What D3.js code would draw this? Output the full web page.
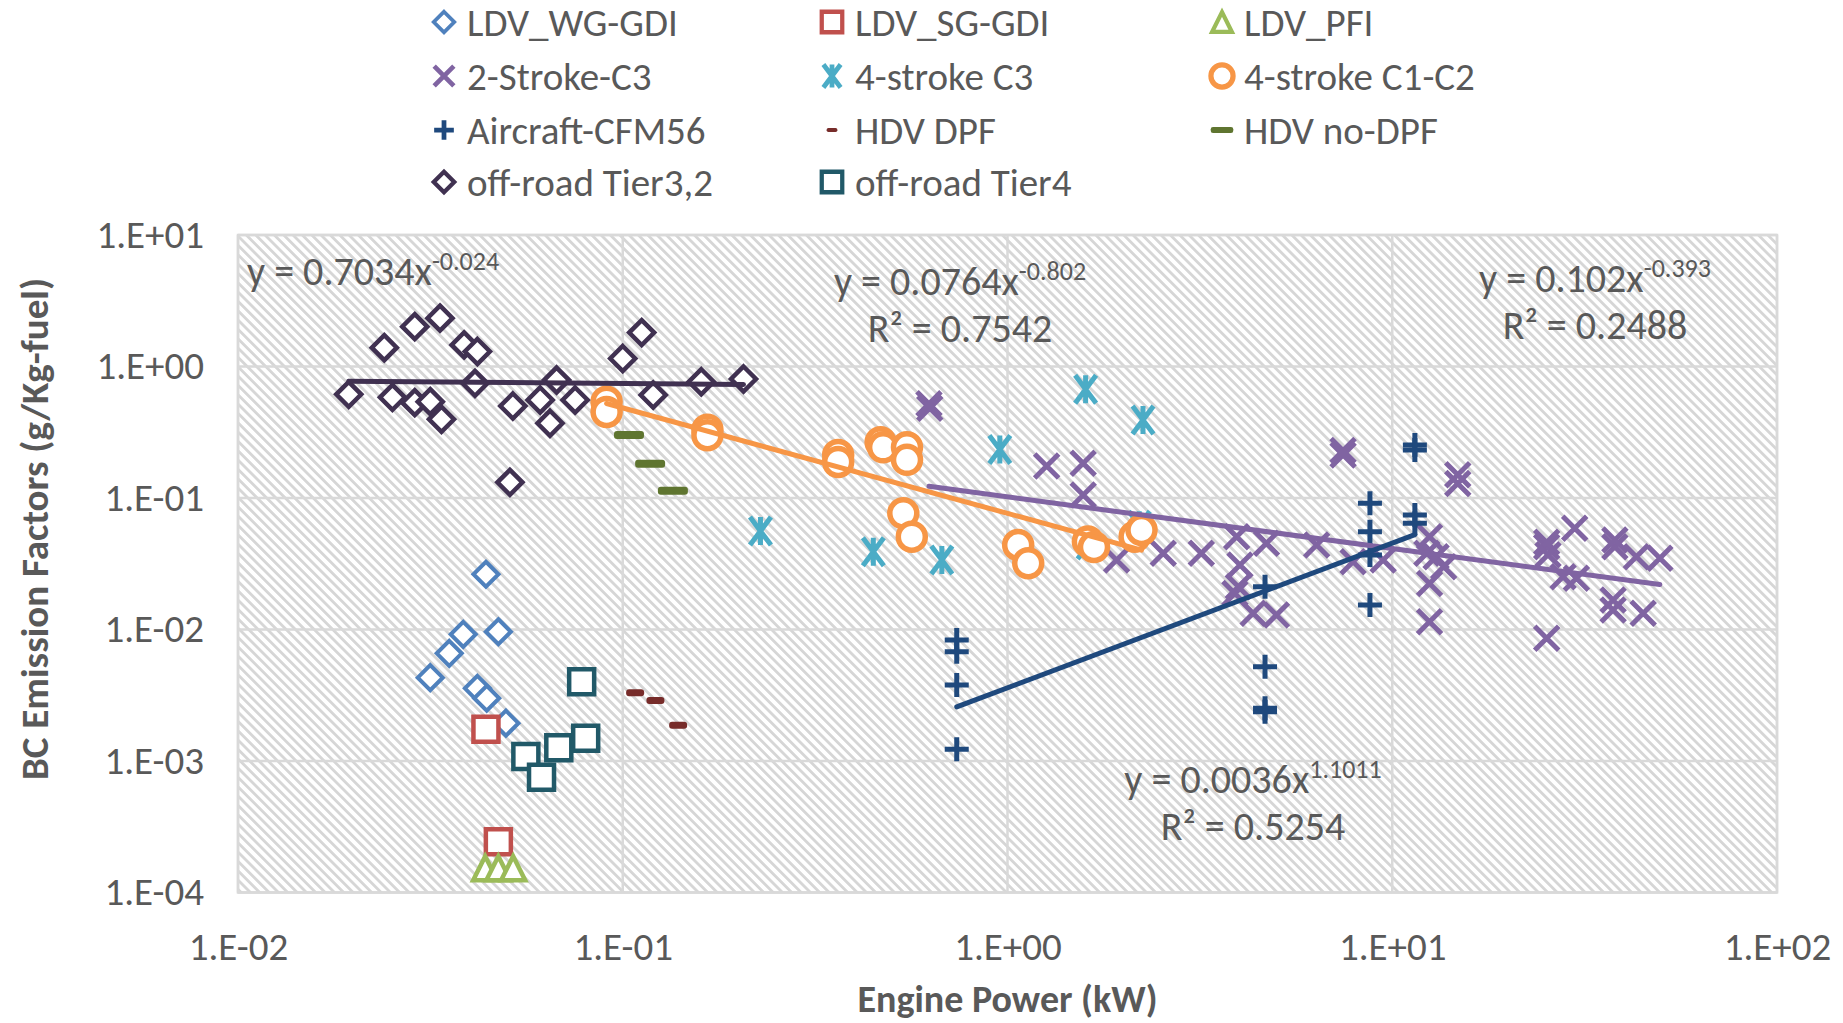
<!DOCTYPE html>
<html>
<head>
<meta charset="utf-8">
<script src="https://cdn.jsdelivr.net/npm/d3@7"></script>
<style>
body{margin:0;background:#fff;}
text{font-family:Carlito,Lato,"Open Sans",sans-serif;fill:#595959;}
</style>
</head>
<body>
<svg id="chart" width="1843" height="1023"></svg>
<script>
// engine power (kW), BC emission factor (g/kg-fuel)
var ldvWgGdi = [[0.0441,0.0263],[0.0385,0.00919],[0.0475,0.00962],[0.0354,0.00659],[0.0316,0.0043],[0.0419,0.00357],[0.0443,0.0030],[0.0497,0.00194]];
var ldvSgGdi = [[0.0441,0.00174],[0.0475,0.000243]];
var ldvPfi = [[0.0439,0.000153],[0.0475,0.000153],[0.0519,0.000153]];
var twoStrokeC3 = [[0.628,0.481],[0.625,0.52],[1.264,0.175],[1.573,0.184],[1.573,0.1054],[1.921,0.0338],[2.54,0.038],[3.19,0.038],
  [3.94,0.0508],[4.02,0.0309],[3.98,0.0211],[3.90,0.0188],[4.35,0.0133],[5.00,0.0129],[4.71,0.0452],[6.36,0.0439],[7.91,0.0328],
  [9.47,0.0338],[7.45,0.212],[7.45,0.23],[14.8,0.150],[14.8,0.129],[12.5,0.0508],[12.3,0.038],[13.0,0.0358],[13.6,0.030],
  [12.5,0.0224],[12.5,0.01146],[25.2,0.0426],[25.2,0.046],[25.4,0.037],[29.8,0.0589],[27.8,0.0252],[30.1,0.0245],[25.2,0.00857],
  [37.9,0.0426],[37.9,0.048],[43.1,0.0358],[49.6,0.0348],[37.5,0.01676],[37.5,0.01407],[44.9,0.0133]];
var fourStrokeC3 = [[0.228,0.0561],[0.448,0.0391],[0.675,0.0338],[0.955,0.234],[1.596,0.671],[2.25,0.392],[1.62,0.044],[2.2,0.062]];
var fourStrokeC1C2 = [[0.0908,0.54],[0.0908,0.451],[0.166,0.33],[0.166,0.30],[0.363,0.212],[0.363,0.188],[0.468,0.265],[0.475,0.243],
  [0.548,0.243],[0.548,0.195],[0.536,0.0765],[0.564,0.0508],[1.066,0.0439],[1.132,0.0319],[1.618,0.0466],[1.678,0.0424],[2.14,0.0508],[2.23,0.0571]];
var aircraftCfm56 = [[0.738,0.00832],[0.738,0.00678],[0.738,0.00378],[0.738,0.00123],[4.67,0.0211],[4.67,0.00521],[4.67,0.00252],[4.67,0.00237],
  [8.75,0.0912],[8.75,0.0554],[8.75,0.0369],[8.75,0.01536],[11.45,0.253],[11.45,0.232],[11.45,0.0743],[11.45,0.0642]];
var hdvDpf = [[0.1077,0.0033],[0.1216,0.00288],[0.1393,0.00187]];
var hdvNoDpf = [[0.1038,0.301],[0.1178,0.182],[0.135,0.1137]];
var offroadTier32 = [[0.0194,0.614],[0.0240,1.39],[0.0288,2.01],[0.0335,2.33],[0.0252,0.583],[0.0288,0.531],[0.0316,0.540],[0.0338,0.397],
  [0.0387,1.46],[0.0419,1.30],[0.0413,0.745],[0.0518,0.501],[0.0509,0.1316],[0.0610,0.556],[0.0673,0.789],[0.0647,0.370],[0.0752,0.556],
  [0.100,1.15],[0.112,1.81],[0.120,0.607],[0.160,0.766],[0.206,0.803]];
var offroadTier4 = [[0.0782,0.00401],[0.056,0.00108],[0.0615,0.000752],[0.0682,0.00126],[0.0801,0.00149]];

var seriesNames = ["LDV_WG-GDI","LDV_SG-GDI","LDV_PFI","2-Stroke-C3","4-stroke C3","4-stroke C1-C2","Aircraft-CFM56","HDV DPF","HDV no-DPF","off-road Tier3,2","off-road Tier4"];
var seriesData = [ldvWgGdi,ldvSgGdi,ldvPfi,twoStrokeC3,fourStrokeC3,fourStrokeC1C2,aircraftCfm56,hdvDpf,hdvNoDpf,offroadTier32,offroadTier4];

// power-law trendlines y = a * x^b
var trendSeries = [9,5,3,6];
var trendA = [0.7034,0.0764,0.102,0.0036];
var trendB = [-0.024,-0.802,-0.393,1.1011];
var trendR2 = [null,"0.7542","0.2488","0.5254"];
var trendCoef = ["0.7034","0.0764","0.102","0.0036"];
var trendExp = ["-0.024","-0.802","-0.393","1.1011"];

var xTicks = [1e-2,1e-1,1e0,1e1,1e2];
var yTicks = [1e-4,1e-3,1e-2,1e-1,1e0,1e1];

var colors = ["#4F81BD","#C0504D","#9BBB59","#8064A2","#4BACC6","#F79646","#1F497D","#772C2A","#5F7530","#403151","#215968"];
var shapes = ["diamond","square","triangle","cross","star","circle","plus","dashS","dashL","diamond","square"];
var strokeW = [4,4.5,4.5,5,5,5.5,5,0,0,4.5,4.5];

var svg = d3.select("#chart");
var pL = 238, pR = 1777, pT = 235, pB = 892.5;
var x = d3.scaleLog().domain([1e-2,1e2]).range([pL,pR]);
var y = d3.scaleLog().domain([1e-4,1e1]).range([pB,pT]);

function sci(v){
  var e = Math.round(Math.log10(v));
  return "1.E" + (e<0?"-":"+") + String(Math.abs(e)).padStart(2,"0");
}

// hatch background
var defs = svg.append("defs");
var pat = defs.append("pattern").attr("id","hatch").attr("patternUnits","userSpaceOnUse")
  .attr("width",6.6).attr("height",10).attr("patternTransform","rotate(-45)");
pat.append("rect").attr("width",6.6).attr("height",10).attr("fill","#fff");
pat.append("rect").attr("width",2.8).attr("height",10).attr("fill","#d6d6d6");
defs.append("clipPath").attr("id","plotclip").append("rect")
  .attr("x",pL).attr("y",pT).attr("width",pR-pL).attr("height",pB-pT);

svg.append("rect").attr("x",pL).attr("y",pT).attr("width",pR-pL).attr("height",pB-pT).attr("fill","url(#hatch)");

var grid = svg.append("g");
grid.selectAll(".gx").data(xTicks).enter().append("line")
  .attr("x1",function(d){return x(d);}).attr("x2",function(d){return x(d);})
  .attr("y1",pT).attr("y2",pB).attr("stroke","#d9d9d9").attr("stroke-width",2.5);
grid.selectAll(".gy").data(yTicks).enter().append("line")
  .attr("y1",function(d){return y(d);}).attr("y2",function(d){return y(d);})
  .attr("x1",pL).attr("x2",pR).attr("stroke","#d9d9d9").attr("stroke-width",2.5);

// axes
var xAxis = svg.append("g").attr("transform","translate(0,"+pB+")")
  .call(d3.axisBottom(x).tickValues(xTicks).tickFormat(sci).tickSize(0).tickPadding(40));
var yAxis = svg.append("g").attr("transform","translate("+pL+",0)")
  .call(d3.axisLeft(y).tickValues(yTicks).tickFormat(sci).tickSize(0).tickPadding(34));
[xAxis,yAxis].forEach(function(a){
  a.select(".domain").remove();
  a.attr("font-family",null).attr("font-size",null);
  a.selectAll("text").attr("fill","#595959").style("font-size","39px");
});

function markerPath(shape, s){
  if(shape=="diamond") return "M0,"+(-s)+"L"+s+",0L0,"+s+"L"+(-s)+",0Z";
  if(shape=="square") return "M"+(-s)+","+(-s)+"H"+s+"V"+s+"H"+(-s)+"Z";
  if(shape=="triangle") return "M0,"+(-s)+"L"+s+","+s+"H"+(-s)+"Z";
  if(shape=="cross") return "M"+(-s)+","+(-s)+"L"+s+","+s+"M"+(-s)+","+s+"L"+s+","+(-s);
  if(shape=="star") return "M"+(-s*0.75)+","+(-s)+"L"+(s*0.75)+","+s+"M"+(-s*0.75)+","+s+"L"+(s*0.75)+","+(-s)+"M0,"+(-s)+"V"+s;
  if(shape=="plus") return "M"+(-s)+",0H"+s+"M0,"+(-s)+"V"+s;
  return null;
}

function drawMarker(g, i, k, sw){
  var shape = shapes[i], c = colors[i];
  var w = strokeW[i]*sw;
  if(shape=="circle"){
    g.append("circle").attr("r",13.5*k).attr("fill","#fff").attr("stroke",c).attr("stroke-width",w);
  } else if(shape=="dashS"){
    g.append("rect").attr("x",-9*k).attr("y",-3.5*k).attr("width",18*k).attr("height",7*k).attr("rx",3*k).attr("fill",c);
  } else if(shape=="dashL"){
    g.append("rect").attr("x",-15*k).attr("y",-4*k).attr("width",30*k).attr("height",8*k).attr("rx",3*k).attr("fill",c);
  } else {
    var s = {diamond:12.5,square:12.5,triangle:12,cross:12,star:14,plus:12}[shape];
    var open = (shape=="diamond"||shape=="square"||shape=="triangle");
    g.append("path").attr("d",markerPath(shape,s*k))
      .attr("fill",open?"#fff":"none").attr("stroke",c).attr("stroke-width",w)
      .attr("stroke-linejoin","miter");
  }
}

var plot = svg.append("g").attr("clip-path","url(#plotclip)");
seriesData.forEach(function(data,i){
  var sg = plot.append("g");
  sg.selectAll("g").data(data).enter().append("g")
    .attr("transform",function(d){return "translate("+x(d[0])+","+y(d[1])+")";})
    .each(function(){ drawMarker(d3.select(this), i, 1, 1); });
});

// trendlines
var line = d3.line().x(function(d){return x(d[0]);}).y(function(d){return y(d[1]);});
trendSeries.forEach(function(si,t){
  var ext = d3.extent(seriesData[si],function(d){return d[0];});
  var pts = ext.map(function(v){return [v, trendA[t]*Math.pow(v,trendB[t])];});
  plot.append("path").attr("d",line(pts)).attr("fill","none")
    .attr("stroke",colors[si]).attr("stroke-width",5).attr("stroke-linecap","round");
});

// trendline labels
var labelPos = [[247,285,"start"],[960,295,"middle"],[1595,292,"middle"],[1253,793,"middle"]];
trendSeries.forEach(function(si,t){
  var p = labelPos[t];
  var tx = svg.append("text").attr("x",p[0]).attr("y",p[1]).attr("text-anchor",p[2]).style("font-size","40px");
  tx.append("tspan").text("y = "+trendCoef[t]+"x");
  tx.append("tspan").attr("baseline-shift","15px").style("font-size","26px").text(trendExp[t]);
  if(trendR2[t]){
    svg.append("text").attr("x",p[0]).attr("y",p[1]+47).attr("text-anchor",p[2]).style("font-size","40px")
      .text("R\u00b2 = "+trendR2[t]);
  }
});

svg.append("rect").attr("x",pL).attr("y",pT).attr("width",pR-pL).attr("height",pB-pT)
  .attr("fill","none").attr("stroke","#d9d9d9").attr("stroke-width",2.5);

// axis titles
svg.append("text").attr("x",(pL+pR)/2).attr("y",1012).attr("text-anchor","middle")
  .style("font-size","38px").style("font-weight","bold").text("Engine Power (kW)");
svg.append("text").attr("transform","translate(48,529) rotate(-90)").attr("text-anchor","middle")
  .style("font-size","39px").style("font-weight","bold").text("BC Emission Factors (g/Kg-fuel)");

// legend
var legX = [444,832,1222], legY = [22,76,130,182], legTextX = [467,855,1244];
var legend = svg.append("g");
seriesNames.forEach(function(name,i){
  var col = i%3, row = Math.floor(i/3);
  var mg = legend.append("g").attr("transform","translate("+legX[col]+","+legY[row]+")");
  var k = shapes[i]=="dashS"?0.6:(shapes[i]=="dashL"?0.75:0.82);
  drawMarker(mg, i, k, 0.95);
  legend.append("text").attr("x",legTextX[col]).attr("y",legY[row]).attr("dy","0.36em")
    .style("font-size","39px").text(name);
});
</script>
</body>
</html>
